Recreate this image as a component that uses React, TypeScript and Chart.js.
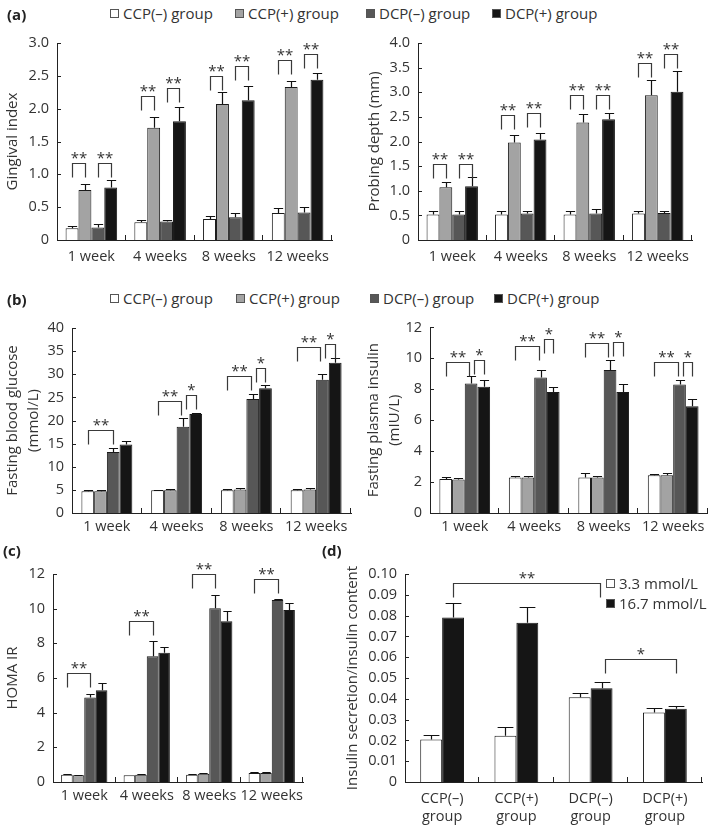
import React, { useEffect, useRef } from 'react';
import { Chart, registerables } from 'chart.js';

Chart.register(...registerables);

const FONT = '"Open Sans", "Noto Sans", sans-serif';
const TEXT = '#333333';
const AXIS = '#222222';

// ---------- categories ----------
const WEEKS = ['1 week', '4 weeks', '8 weeks', '12 weeks'];
const GROUP_NAMES = ['CCP(–) group', 'CCP(+) group', 'DCP(–) group', 'DCP(+) group'];
const ISLET_GROUPS = [['CCP(–)', 'group'], ['CCP(+)', 'group'], ['DCP(–)', 'group'], ['DCP(+)', 'group']];
const GLUCOSE_LEVELS = ['3.3 mmol/L', '16.7 mmol/L'];

// ---------- (a) Gingival index ----------
const GI_CCP_NEG = [0.18, 0.27, 0.32, 0.41];
const GI_CCP_NEG_SD = [0.03, 0.03, 0.045, 0.07];
const GI_CCP_POS = [0.76, 1.71, 2.07, 2.33];
const GI_CCP_POS_SD = [0.09, 0.17, 0.18, 0.09];
const GI_DCP_NEG = [0.19, 0.28, 0.345, 0.42];
const GI_DCP_NEG_SD = [0.05, 0.02, 0.06, 0.08];
const GI_DCP_POS = [0.8, 1.81, 2.13, 2.44];
const GI_DCP_POS_SD = [0.12, 0.22, 0.22, 0.1];
// [categoryA, seriesA, categoryB, seriesB, bracket value, label]
const GI_SIG: [number, number, number, number, number, string][] = [
  [0, 0, 0, 1, 1.17, '**'], [0, 2, 0, 3, 1.17, '**'],
  [1, 0, 1, 1, 2.19, '**'], [1, 2, 1, 3, 2.32, '**'],
  [2, 0, 2, 1, 2.49, '**'], [2, 2, 2, 3, 2.65, '**'],
  [3, 0, 3, 1, 2.74, '**'], [3, 2, 3, 3, 2.84, '**'],
];

// ---------- (a) Probing depth ----------
const PD_CCP_NEG = [0.52, 0.52, 0.52, 0.54];
const PD_CCP_NEG_SD = [0.07, 0.07, 0.07, 0.05];
const PD_CCP_POS = [1.07, 1.98, 2.385, 2.94];
const PD_CCP_POS_SD = [0.11, 0.16, 0.175, 0.3];
const PD_DCP_NEG = [0.52, 0.54, 0.54, 0.55];
const PD_DCP_NEG_SD = [0.07, 0.05, 0.08, 0.04];
const PD_DCP_POS = [1.09, 2.04, 2.45, 3.01];
const PD_DCP_POS_SD = [0.19, 0.14, 0.13, 0.42];
const PD_SIG: [number, number, number, number, number, string][] = [
  [0, 0, 0, 1, 1.55, '**'], [0, 2, 0, 3, 1.55, '**'],
  [1, 0, 1, 1, 2.53, '**'], [1, 2, 1, 3, 2.57, '**'],
  [2, 0, 2, 1, 2.94, '**'], [2, 2, 2, 3, 2.94, '**'],
  [3, 0, 3, 1, 3.6, '**'], [3, 2, 3, 3, 3.78, '**'],
];

// ---------- (b) Fasting blood glucose ----------
const FBG_CCP_NEG = [4.7, 4.9, 4.9, 4.9];
const FBG_CCP_NEG_SD = [0.2, 0.1, 0.3, 0.3];
const FBG_CCP_POS = [4.7, 4.9, 5.1, 5.1];
const FBG_CCP_POS_SD = [0.2, 0.3, 0.3, 0.3];
const FBG_DCP_NEG = [13.2, 18.65, 24.65, 28.8];
const FBG_DCP_NEG_SD = [0.8, 1.85, 1.05, 1.3];
const FBG_DCP_POS = [14.8, 21.4, 27.0, 32.5];
const FBG_DCP_POS_SD = [0.8, 0.3, 0.7, 1.1];
const FBG_SIG: [number, number, number, number, number, string][] = [
  [0, 0, 0, 2, 17.9, '**'],
  [1, 0, 1, 2, 24.3, '**'], [1, 2, 1, 3, 25.5, '*'],
  [2, 0, 2, 2, 29.6, '**'], [2, 2, 2, 3, 31.3, '*'],
  [3, 0, 3, 2, 35.9, '**'], [3, 2, 3, 3, 36.5, '*'],
];

// ---------- (b) Fasting plasma insulin ----------
const FPI_CCP_NEG = [2.2, 2.29, 2.29, 2.44];
const FPI_CCP_NEG_SD = [0.15, 0.13, 0.28, 0.06];
const FPI_CCP_POS = [2.16, 2.29, 2.29, 2.44];
const FPI_CCP_POS_SD = [0.13, 0.08, 0.08, 0.17];
const FPI_DCP_NEG = [8.37, 8.76, 9.24, 8.31];
const FPI_DCP_NEG_SD = [0.5, 0.48, 0.65, 0.32];
const FPI_DCP_POS = [8.16, 7.83, 7.83, 6.9];
const FPI_DCP_POS_SD = [0.47, 0.29, 0.52, 0.46];
const FPI_SIG: [number, number, number, number, number, string][] = [
  [0, 0, 0, 2, 9.78, '**'], [0, 2, 0, 3, 9.89, '*'],
  [1, 0, 1, 2, 10.8, '**'], [1, 2, 1, 3, 11.22, '*'],
  [2, 0, 2, 2, 11.0, '**'], [2, 2, 2, 3, 11.03, '*'],
  [3, 0, 3, 2, 9.78, '**'], [3, 2, 3, 3, 9.78, '*'],
];

// ---------- (c) HOMA IR ----------
const HOMA_CCP_NEG = [0.42, 0.39, 0.42, 0.52];
const HOMA_CCP_NEG_SD = [0.06, 0.0, 0.06, 0.04];
const HOMA_CCP_POS = [0.39, 0.42, 0.48, 0.52];
const HOMA_CCP_POS_SD = [0.03, 0.06, 0.04, 0.08];
const HOMA_DCP_NEG = [4.87, 7.26, 10.02, 10.5];
const HOMA_DCP_NEG_SD = [0.23, 0.89, 0.77, 0.04];
const HOMA_DCP_POS = [5.3, 7.45, 9.28, 9.92];
const HOMA_DCP_POS_SD = [0.44, 0.35, 0.6, 0.38];
const HOMA_SIG: [number, number, number, number, number, string][] = [
  [0, 0, 0, 2, 6.26, '**'], [1, 0, 1, 2, 9.3, '**'],
  [2, 0, 2, 2, 11.98, '**'], [3, 0, 3, 2, 11.69, '**'],
];

// ---------- (d) Insulin secretion / insulin content ----------
const IS_LOW = [0.0204, 0.0222, 0.0408, 0.0334];
const IS_LOW_SD = [0.0024, 0.0043, 0.0021, 0.0024];
const IS_HIGH = [0.0791, 0.0766, 0.0451, 0.0352];
const IS_HIGH_SD = [0.0071, 0.0074, 0.0031, 0.0014];
const IS_SIG: [number, number, number, number, number, string][] = [
  [0, 1, 2, 1, 0.0958, '**'],
  [2, 1, 3, 1, 0.0589, '*'],
];

const FILLS4 = ['#ffffff', '#a3a3a3', '#575757', '#151515'];
const FILLS2 = ['#ffffff', '#151515'];

type Sig = [number, number, number, number, number, string];

type PanelProps = {
  x: number; y: number; yW: number; plotW: number; plotH: number;
  padTop: number; padRight: number; xH: number; xPad: number;
  labels: (string | string[])[];
  values: number[][]; errors: number[][]; fills: string[]; names: string[];
  yMax: number; yStep: number; decimals: number;
  yTitle: string | string[];
  sig: Sig[]; catPct: number;
};

function BarPanel(p: PanelProps) {
  const ref = useRef<HTMLCanvasElement>(null);
  const width = p.yW + p.plotW + p.padRight;
  const height = p.padTop + p.plotH + p.xH;
  useEffect(() => {
    const canvas = ref.current;
    if (!canvas) return;
    const overlay = {
      id: 'overlay',
      afterDraw(chart: any) {
        const { ctx, chartArea: a } = chart;
        const ys = chart.scales.y;
        ctx.save();
        ctx.strokeStyle = AXIS;
        ctx.lineWidth = 1;
        ys.ticks.forEach((t: any) => {
          if (t.value === 0) return;
          const py = Math.round(ys.getPixelForValue(t.value)) + 0.5;
          ctx.beginPath();
          ctx.moveTo(a.left, py);
          ctx.lineTo(a.left + 4, py);
          ctx.stroke();
        });
        const n = p.labels.length;
        for (let i = 1; i <= n; i++) {
          const px = Math.round(a.left + (a.width * i) / n) - 0.5;
          ctx.beginPath();
          ctx.moveTo(px, a.bottom);
          ctx.lineTo(px, a.bottom - 5);
          ctx.stroke();
        }
        // error bars
        ctx.strokeStyle = '#111111';
        ctx.lineWidth = 1.2;
        p.values.forEach((vals, di) => {
          const meta = chart.getDatasetMeta(di);
          vals.forEach((v, i) => {
            const el: any = meta.data[i];
            const sd = p.errors[di][i];
            if (!el || !sd) return;
            const cx = Math.round(el.x) + 0.5;
            const top = Math.round(ys.getPixelForValue(v + sd)) + 0.5;
            const cap = el.width * 0.36;
            ctx.beginPath();
            ctx.moveTo(cx, el.y);
            ctx.lineTo(cx, top);
            ctx.moveTo(cx - cap, top);
            ctx.lineTo(cx + cap, top);
            ctx.stroke();
          });
        });
        // significance brackets
        const ends = p.sig.map((s) => `${s[2]}-${s[3]}`);
        const starts = p.sig.map((s) => `${s[0]}-${s[1]}`);
        ctx.strokeStyle = '#3a3a3a';
        ctx.lineWidth = 1.2;
        ctx.fillStyle = TEXT;
        ctx.font = `15px ${FONT}`;
        ctx.textAlign = 'center';
        ctx.textBaseline = 'alphabetic';
        p.sig.forEach(([ca, sa, cb, sb, val, label]) => {
          const ea: any = chart.getDatasetMeta(sa).data[ca];
          const eb: any = chart.getDatasetMeta(sb).data[cb];
          let xa = Math.round(ea.x) + 0.5;
          let xb = Math.round(eb.x) + 0.5;
          if (ends.includes(`${ca}-${sa}`)) xa += 3;
          if (starts.includes(`${cb}-${sb}`)) xb -= 2;
          const ty = Math.round(ys.getPixelForValue(val)) + 0.5;
          ctx.beginPath();
          ctx.moveTo(xa, ty + 14);
          ctx.lineTo(xa, ty);
          ctx.lineTo(xb, ty);
          ctx.lineTo(xb, ty + 14);
          ctx.stroke();
          ctx.fillText(label, (xa + xb) / 2, ty - 1);
        });
        ctx.restore();
      },
    };
    const tickFont = { family: FONT, size: 14.5, lineHeight: 1.3 };
    const chart = new Chart(canvas, {
      type: 'bar',
      data: {
        labels: p.labels as any,
        datasets: p.values.map((vals, i) => ({
          label: p.names[i],
          data: vals,
          backgroundColor: p.fills[i],
          borderColor: '#1a1a1a',
          borderWidth: 1,
          categoryPercentage: p.catPct,
          barPercentage: 1,
        })),
      },
      options: {
        animation: false,
        responsive: false,
        maintainAspectRatio: false,
        devicePixelRatio: 1,
        events: [],
        layout: { padding: { top: p.padTop, right: p.padRight, left: 0, bottom: 0 } },
        plugins: { legend: { display: false }, tooltip: { enabled: false } },
        scales: {
          x: {
            type: 'category',
            offset: true,
            grid: { display: false, drawTicks: false },
            border: { display: true, color: AXIS, width: 1 },
            ticks: { color: TEXT, font: tickFont, padding: p.xPad, maxRotation: 0, autoSkip: false },
            afterFit: (s: any) => { s.height = p.xH; },
          },
          y: {
            min: 0,
            max: p.yMax,
            grid: { display: false, drawTicks: false },
            border: { display: true, color: AXIS, width: 1 },
            ticks: {
              stepSize: p.yStep,
              autoSkip: false,
              color: TEXT,
              font: tickFont,
              padding: 8,
              callback: (v: any) => (Number(v) === 0 ? '0' : Number(v).toFixed(p.decimals)),
            },
            title: {
              display: true,
              text: p.yTitle as any,
              color: TEXT,
              font: { family: FONT, size: 15, lineHeight: 1.4 },
              padding: { top: 2, bottom: 0 },
            },
            afterFit: (s: any) => { s.width = p.yW; },
          },
        },
      } as any,
      plugins: [overlay],
    });
    return () => chart.destroy();
  }, []);
  return (
    <canvas
      ref={ref}
      width={width}
      height={height}
      style={{ position: 'absolute', left: p.x, top: p.y, width, height }}
    />
  );
}

function LegendItem({ x, y, fill, text }: { x: number; y: number; fill: string; text: string }) {
  return (
    <div style={{ position: 'absolute', left: x - 13, top: y - 11, height: 22, display: 'flex', alignItems: 'center', font: `15px ${FONT}`, color: TEXT, whiteSpace: 'nowrap' }}>
      <span style={{ display: 'inline-block', width: 9, height: 9, boxSizing: 'border-box', background: fill, border: '1px solid #555', marginRight: 4 }} />
      <span>{text}</span>
    </div>
  );
}

function PanelLabel({ x, y, text }: { x: number; y: number; text: string }) {
  return (
    <div style={{ position: 'absolute', left: x, top: y - 11, height: 22, lineHeight: '22px', font: `bold 15px ${FONT}`, color: '#222' }}>{text}</div>
  );
}

export default function App() {
  useEffect(() => {
    document.body.style.margin = '0';
  }, []);
  const four = (a: number[], b: number[], c: number[], d: number[]) => [a, b, c, d];
  return (
    <div style={{ position: 'relative', width: 709, height: 826, background: '#fff', overflow: 'hidden' }}>
      <BarPanel
        x={0} y={25} yW={57} plotW={275} plotH={197} padTop={18} padRight={10} xH={30} xPad={7}
        labels={WEEKS} names={GROUP_NAMES} fills={FILLS4}
        values={four(GI_CCP_NEG, GI_CCP_POS, GI_DCP_NEG, GI_DCP_POS)}
        errors={four(GI_CCP_NEG_SD, GI_CCP_POS_SD, GI_DCP_NEG_SD, GI_DCP_POS_SD)}
        yMax={3} yStep={0.5} decimals={1} yTitle="Gingival index" sig={GI_SIG} catPct={0.75}
      />
      <BarPanel
        x={362} y={25} yW={56} plotW={274} plotH={197} padTop={18} padRight={10} xH={30} xPad={7}
        labels={WEEKS} names={GROUP_NAMES} fills={FILLS4}
        values={four(PD_CCP_NEG, PD_CCP_POS, PD_DCP_NEG, PD_DCP_POS)}
        errors={four(PD_CCP_NEG_SD, PD_CCP_POS_SD, PD_DCP_NEG_SD, PD_DCP_POS_SD)}
        yMax={4} yStep={0.5} decimals={1} yTitle="Probing depth (mm)" sig={PD_SIG} catPct={0.75}
      />
      <BarPanel
        x={0} y={310} yW={72} plotW={279} plotH={185} padTop={18} padRight={5} xH={30} xPad={4.5}
        labels={WEEKS} names={GROUP_NAMES} fills={FILLS4}
        values={four(FBG_CCP_NEG, FBG_CCP_POS, FBG_DCP_NEG, FBG_DCP_POS)}
        errors={four(FBG_CCP_NEG_SD, FBG_CCP_POS_SD, FBG_DCP_NEG_SD, FBG_DCP_POS_SD)}
        yMax={40} yStep={5} decimals={0} yTitle={['Fasting blood glucose', '(mmol/L)']} sig={FBG_SIG} catPct={0.73}
      />
      <BarPanel
        x={361} y={310} yW={69} plotW={278} plotH={186} padTop={17} padRight={1} xH={30} xPad={4.5}
        labels={WEEKS} names={GROUP_NAMES} fills={FILLS4}
        values={four(FPI_CCP_NEG, FPI_CCP_POS, FPI_DCP_NEG, FPI_DCP_POS)}
        errors={four(FPI_CCP_NEG_SD, FPI_CCP_POS_SD, FPI_DCP_NEG_SD, FPI_DCP_POS_SD)}
        yMax={12} yStep={2} decimals={0} yTitle={['Fasting plasma insulin', '(mIU/L)']} sig={FPI_SIG} catPct={0.73}
      />
      <BarPanel
        x={0} y={555} yW={53} plotW={250} plotH={208} padTop={19} padRight={10} xH={30} xPad={4}
        labels={WEEKS} names={GROUP_NAMES} fills={FILLS4}
        values={four(HOMA_CCP_NEG, HOMA_CCP_POS, HOMA_DCP_NEG, HOMA_DCP_POS)}
        errors={four(HOMA_CCP_NEG_SD, HOMA_CCP_POS_SD, HOMA_DCP_NEG_SD, HOMA_DCP_POS_SD)}
        yMax={12} yStep={2} decimals={0} yTitle="HOMA IR" sig={HOMA_SIG} catPct={0.74}
      />
      <BarPanel
        x={340} y={555} yW={65} plotW={297} plotH={208} padTop={19} padRight={5} xH={44} xPad={7}
        labels={ISLET_GROUPS} names={GLUCOSE_LEVELS} fills={FILLS2}
        values={[IS_LOW, IS_HIGH]} errors={[IS_LOW_SD, IS_HIGH_SD]}
        yMax={0.1} yStep={0.01} decimals={2} yTitle="Insulin secretion/insulin content" sig={IS_SIG} catPct={0.59}
      />

      <PanelLabel x={7} y={15} text="(a)" />
      <PanelLabel x={7} y={300} text="(b)" />
      <PanelLabel x={3} y={551} text="(c)" />
      <PanelLabel x={322} y={551} text="(d)" />

      <LegendItem x={123} y={13} fill={FILLS4[0]} text={GROUP_NAMES[0]} />
      <LegendItem x={248} y={13} fill={FILLS4[1]} text={GROUP_NAMES[1]} />
      <LegendItem x={379} y={13} fill={FILLS4[2]} text={GROUP_NAMES[2]} />
      <LegendItem x={505} y={13} fill={FILLS4[3]} text={GROUP_NAMES[3]} />

      <LegendItem x={123} y={298} fill={FILLS4[0]} text={GROUP_NAMES[0]} />
      <LegendItem x={249} y={298} fill={FILLS4[1]} text={GROUP_NAMES[1]} />
      <LegendItem x={383} y={298} fill={FILLS4[2]} text={GROUP_NAMES[2]} />
      <LegendItem x={507} y={298} fill={FILLS4[3]} text={GROUP_NAMES[3]} />

      <LegendItem x={619} y={583} fill={FILLS2[0]} text={GLUCOSE_LEVELS[0]} />
      <LegendItem x={619} y={603} fill={FILLS2[1]} text={GLUCOSE_LEVELS[1]} />
    </div>
  );
}
